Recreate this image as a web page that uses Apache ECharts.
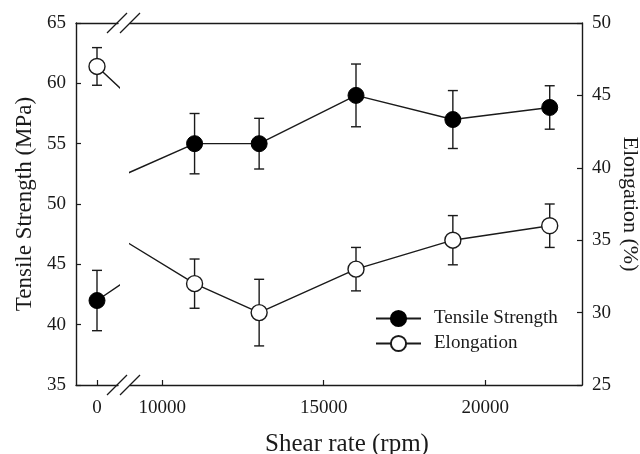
<!DOCTYPE html>
<html>
<head>
<meta charset="utf-8">
<script src="https://cdn.jsdelivr.net/npm/echarts@6/dist/echarts.min.js"></script>
<style>
  html, body { margin: 0; padding: 0; background: #fff; }
  #chart { width: 640px; height: 454px; }
</style>
</head>
<body>
<div id="chart"></div>
<script>
// Shear rate (rpm) and measured properties with standard deviations
const shearRate = [0, 11000, 13000, 16000, 19000, 22000];
const tensileStrength = [42, 55, 55, 59, 57, 58];
const tensileErr = [2.5, 2.5, 2.1, 2.6, 2.4, 1.8];
const elongation = [47, 32, 30, 33, 35, 36];
const elongationErr = [1.3, 1.7, 2.3, 1.5, 1.7, 1.5];

// Broken x axis: a narrow segment around 0 and a wide one for 9000–23000
const segments = [
  { min: -1000, max: 1000, ticks: [0] },
  { min: 9000, max: 23000, ticks: [10000, 15000, 20000] }
];
const leftTicks = [35, 65];   // tensile strength range
const rightTicks = [25, 50];  // elongation range

const FONT = '"Liberation Serif", "DejaVu Serif", serif';
const INK = '#1a1a1a';

const chart = echarts.init(document.getElementById('chart'));

const pairs = (ys) => shearRate.map((x, i) => [x, ys[i]]);
const errRows = (ys, es, seg) => shearRate
  .map((x, i) => [x, ys[i] - es[i], ys[i] + es[i]])
  .filter(r => r[0] >= seg.min && r[0] <= seg.max);

function renderErr(params, api) {
  const x = api.value(0);
  const lo = api.coord([x, api.value(1)]);
  const hi = api.coord([x, api.value(2)]);
  const w = 5;
  const st = { stroke: INK, lineWidth: 1.4 };
  return {
    type: 'group',
    children: [
      { type: 'line', shape: { x1: lo[0], y1: lo[1], x2: hi[0], y2: hi[1] }, style: st },
      { type: 'line', shape: { x1: lo[0] - w, y1: lo[1], x2: lo[0] + w, y2: lo[1] }, style: st },
      { type: 'line', shape: { x1: hi[0] - w, y1: hi[1], x2: hi[0] + w, y2: hi[1] }, style: st }
    ]
  };
}

const grids = [
  { left: 76, top: 23, width: 42, height: 362, containLabel: false, outerBoundsMode: 'none' },
  { left: 130, top: 23, width: 452, height: 362, containLabel: false, outerBoundsMode: 'none' }
];

const axisLineStyle = { show: true, onZero: false, lineStyle: { color: INK, width: 1.4 } };
const labelStyle = { color: INK, fontFamily: FONT, fontSize: 19 };

const xAxis = [];
segments.forEach((seg, g) => {
  xAxis.push({
    type: 'value', gridIndex: g, min: seg.min, max: seg.max, position: 'bottom',
    axisLine: axisLineStyle,
    axisTick: { show: true, inside: true, length: 5, customValues: seg.ticks, lineStyle: { color: INK, width: 1.2 } },
    axisLabel: { show: true, customValues: seg.ticks, margin: 14, formatter: v => String(v), ...labelStyle },
    splitLine: { show: false },
    name: g === 1 ? 'Shear rate (rpm)' : '',
    nameLocation: 'middle', nameGap: 47, nameMoveOverlap: false,
    nameTextStyle: { color: INK, fontFamily: FONT, fontSize: 25, padding: [0, 18, 0, 0] }
  });
});
segments.forEach((seg, g) => {
  xAxis.push({
    type: 'value', gridIndex: g, min: seg.min, max: seg.max, position: 'top',
    axisLine: axisLineStyle, axisTick: { show: false }, axisLabel: { show: false },
    splitLine: { show: false }
  });
});

const yAxis = [
  { // grid 0, left: visible tensile axis
    type: 'value', gridIndex: 0, min: leftTicks[0], max: leftTicks[1], interval: 5, position: 'left',
    axisLine: axisLineStyle,
    axisTick: { show: true, inside: true, length: 5, lineStyle: { color: INK, width: 1.2 } },
    axisLabel: { margin: 10, ...labelStyle },
    splitLine: { show: false },
    name: 'Tensile Strength (MPa)', nameLocation: 'middle', nameGap: 40, nameMoveOverlap: false,
    nameTextStyle: { color: INK, fontFamily: FONT, fontSize: 23 }
  },
  { type: 'value', gridIndex: 0, min: rightTicks[0], max: rightTicks[1], position: 'right', show: false },
  { type: 'value', gridIndex: 1, min: leftTicks[0], max: leftTicks[1], position: 'left', show: false },
  { // grid 1, right: visible elongation axis
    type: 'value', gridIndex: 1, min: rightTicks[0], max: rightTicks[1], interval: 5, position: 'right',
    axisLine: axisLineStyle,
    axisTick: { show: true, inside: true, length: 5, lineStyle: { color: INK, width: 1.2 } },
    axisLabel: { margin: 10, ...labelStyle },
    splitLine: { show: false },
    name: 'Elongation (%)', nameLocation: 'middle', nameGap: 37, nameRotate: -90, nameMoveOverlap: false,
    nameTextStyle: { color: INK, fontFamily: FONT, fontSize: 22 }
  }
];

const series = [];
segments.forEach((seg, g) => {
  const yLeft = g === 0 ? 0 : 2;
  const yRight = g === 0 ? 1 : 3;
  series.push({
    type: 'custom', name: 'ts-err-' + g, xAxisIndex: g, yAxisIndex: yLeft, z: 1,
    renderItem: renderErr, data: errRows(tensileStrength, tensileErr, seg)
  });
  series.push({
    type: 'custom', name: 'el-err-' + g, xAxisIndex: g, yAxisIndex: yRight, z: 1,
    renderItem: renderErr, data: errRows(elongation, elongationErr, seg)
  });
  series.push({
    type: 'line', name: 'Tensile Strength', xAxisIndex: g, yAxisIndex: yLeft, z: 3,
    clip: true, symbol: 'circle', symbolSize: 16, showAllSymbol: true,
    lineStyle: { color: INK, width: 1.4 },
    itemStyle: { color: '#000', borderColor: '#000', borderWidth: 1 },
    emphasis: { disabled: true },
    data: pairs(tensileStrength)
  });
  series.push({
    type: 'line', name: 'Elongation', xAxisIndex: g, yAxisIndex: yRight, z: 3,
    clip: true, symbol: 'circle', symbolSize: 16, showAllSymbol: true,
    lineStyle: { color: INK, width: 1.4 },
    itemStyle: { color: '#fff', borderColor: INK, borderWidth: 1.4 },
    emphasis: { disabled: true },
    data: pairs(elongation)
  });
});

// Axis-break marks on the top and bottom frame lines
const breakMarks = [];
[23, 385].forEach(y => {
  [117, 130].forEach(cx => {
    breakMarks.push({
      type: 'line', silent: true,
      shape: { x1: cx - 10, y1: y + 10, x2: cx + 10, y2: y - 10 },
      style: { stroke: INK, lineWidth: 1.2 }
    });
  });
});

chart.setOption({
  animation: false,
  backgroundColor: '#fff',
  grid: grids,
  xAxis: xAxis,
  yAxis: yAxis,
  legend: {
    data: ['Tensile Strength', 'Elongation'],
    orient: 'vertical', left: 375, top: 309, padding: 0,
    itemWidth: 45, itemHeight: 19, itemGap: 6,
    textStyle: { color: INK, fontFamily: FONT, fontSize: 19, padding: [0, 0, 0, 8] },
    selectedMode: false
  },
  graphic: breakMarks,
  series: series
});
</script>
</body>
</html>
